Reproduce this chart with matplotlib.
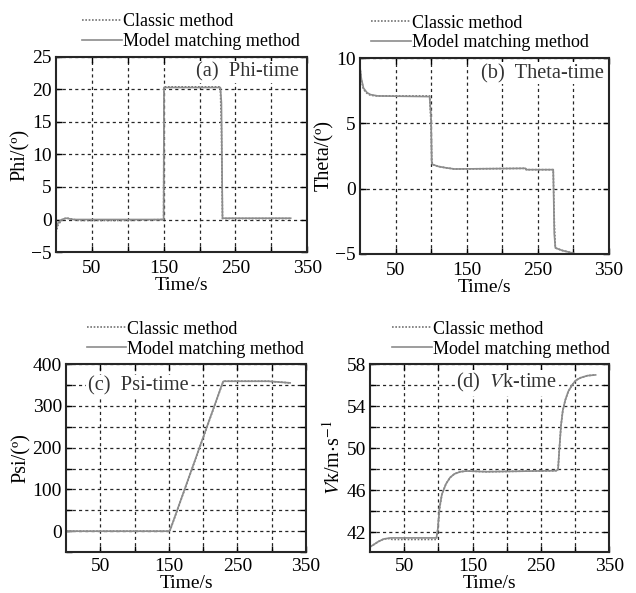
"""
Attitude / speed responses: classic method vs model matching method
"""
import matplotlib
matplotlib.use("Agg")
import matplotlib.pyplot as plt

plt.rcParams['font.family'] = ['Liberation Serif', 'DejaVu Serif']
plt.rcParams['mathtext.fontset'] = 'stix'

LABELS = ["Classic method", "Model matching method"]

# (a) Phi
phi_t = [0, 3, 8, 14, 25, 32, 100, 150, 150.5, 229, 230.5, 232, 327]
phi_classic = [-2.0, -0.8, -0.1, 0.25, 0.0, -0.15, -0.15, 0.0, 20.4, 20.4, 14.0, 0.15, 0.15]
phi_model = [-1.5, -0.5, 0.0, 0.2, 0.0, 0.0, 0.0, 0.0, 20.3, 20.3, 18.0, 0.2, 0.2]

# (b) Theta
theta_t = [0, 2, 5, 10, 15, 25, 98, 100, 101, 102, 110, 120, 133, 233, 234,
           272, 273.5, 275, 285, 300]
theta_classic = [9.3, 8.3, 7.6, 7.3, 7.15, 7.1, 7.1, 5.0, 2.2, 1.85, 1.7, 1.6, 1.5,
                 1.55, 1.45, 1.45, -2.5, -4.55, -4.75, -4.95]
theta_model = [9.3, 8.4, 7.7, 7.35, 7.2, 7.1, 7.05, 5.5, 2.0, 1.85, 1.7, 1.6, 1.5,
               1.55, 1.45, 1.45, -3.5, -4.55, -4.75, -4.95]

# (c) Psi
psi_t = [0, 150, 152, 229, 230, 295, 327]
psi_classic = [0, 0, 3, 357, 359, 359, 355]
psi_model = [0, 0, 4, 358, 359, 359, 355]

# (d) Vk
vk_t = [0, 5, 12, 20, 30, 32, 97, 99, 101.5, 105, 111, 117, 123.5, 132, 141, 170,
        272, 275, 277, 279.4, 282, 285.7, 290, 295.5, 301, 308, 318, 330]
vk_classic = [40.6, 40.8, 41.1, 41.35, 41.4, 41.3, 41.3, 42.2, 44.2, 45.6, 46.6, 47.2,
              47.55, 47.75, 47.82, 47.75, 47.85, 47.95, 50.0, 52.2, 53.6, 54.6, 55.4,
              56.0, 56.45, 56.7, 56.9, 56.97]
vk_model = [40.6, 40.8, 41.1, 41.35, 41.45, 41.45, 41.45, 42.3, 44.3, 45.6, 46.6, 47.2,
            47.55, 47.75, 47.82, 47.75, 47.85, 47.95, 50.0, 52.2, 53.6, 54.6, 55.4,
            56.0, 56.45, 56.7, 56.9, 56.97]

x_ticks = [50, 100, 150, 200, 250, 300, 350]
x_ticklabels = ["50", "", "150", "", "250", "", "350"]

panels = [
    dict(pos=[0.088, 0.575, 0.395, 0.329], t=phi_t, c=phi_classic, m=phi_model,
         ylim=(-5, 25), yticks=[-5, 0, 5, 10, 15, 20, 25],
         yticklabels=["\u22125", "0", "5", "10", "15", "20", "25"],
         ylabel="Phi/(\u00ba)", text="(a)  Phi-time", tpos=(0.965, 0.922), ha="right",
         leg=(0.105, 1.035), tpad=6, xpad=0),
    dict(pos=[0.566, 0.572, 0.391, 0.330], t=theta_t, c=theta_classic, m=theta_model,
         ylim=(-5, 10), yticks=[-5, 0, 5, 10],
         yticklabels=["\u22125", "0", "5", "10"],
         ylabel="Theta/(\u00ba)", text="(b)  Theta-time", tpos=(0.98, 0.922), ha="right",
         leg=(0.044, 1.035), tpad=6, xpad=0),
    dict(pos=[0.104, 0.069, 0.377, 0.317], t=psi_t, c=psi_classic, m=psi_model,
         ylim=(-50, 400), yticks=[-50, 0, 50, 100, 150, 200, 250, 300, 350, 400],
         yticklabels=["", "0", "", "100", "", "200", "", "300", "", "400"],
         ylabel="Psi/(\u00ba)", text="(c)  Psi-time", tpos=(0.09, 0.882), ha="left",
         leg=(0.085, 1.035), tpad=4, xpad=0),
    dict(pos=[0.582, 0.069, 0.376, 0.317], t=vk_t, c=vk_classic, m=vk_model,
         ylim=(40.1, 58), yticks=[42, 44, 46, 48, 50, 52, 54, 56, 58],
         yticklabels=["42", "", "46", "", "50", "", "54", "", "58"],
         ylabel=r"$\it{V}$k/m$\cdot$s$^{-1}$", text=r"(d)  $\it{V}$k-time",
         tpos=(0.36, 0.9), ha="left", leg=(0.092, 1.035), tpad=4, xpad=0),
]

fig = plt.figure(figsize=(6.36, 5.93), dpi=100)

for p in panels:
    ax = fig.add_axes(p["pos"])
    ax.plot(p["t"], p["c"], color="0.45", lw=1.2, ls=(0, (1, 1)), label=LABELS[0])
    ax.plot(p["t"], p["m"], color="0.55", lw=1.2, label=LABELS[1])
    ax.set_xlim(0, 350)
    ax.set_ylim(*p["ylim"])
    ax.set_xticks(x_ticks)
    ax.set_xticklabels(x_ticklabels)
    ax.set_yticks(p["yticks"])
    ax.set_yticklabels(p["yticklabels"])
    ax.tick_params(direction="in", length=4, width=1, labelsize=14,
                   top=True, right=True)
    ax.tick_params(axis="x", pad=p["tpad"])
    ax.tick_params(axis="y", pad=3)
    ax.grid(True, color="0.15", ls=(0, (2.5, 2.5)), lw=0.9)
    for s in ax.spines.values():
        s.set_linewidth(1.5)
        s.set_color("0.15")
    ax.set_xlabel("Time/s", fontsize=14, labelpad=p["xpad"])
    ax.set_ylabel(p["ylabel"], fontsize=14.5, labelpad=1)
    ax.text(p["tpos"][0], p["tpos"][1], p["text"], transform=ax.transAxes,
            ha=p["ha"], va="center", fontsize=14.7, color="0.2",
            bbox=dict(facecolor="white", edgecolor="none", pad=1.0), zorder=5)
    ax.legend(loc="lower left", bbox_to_anchor=p["leg"], frameon=False,
              fontsize=13, handlelength=2.2, handletextpad=0.05,
              labelspacing=0.15, borderpad=0, borderaxespad=0)

fig.savefig("out.png", dpi=100)
